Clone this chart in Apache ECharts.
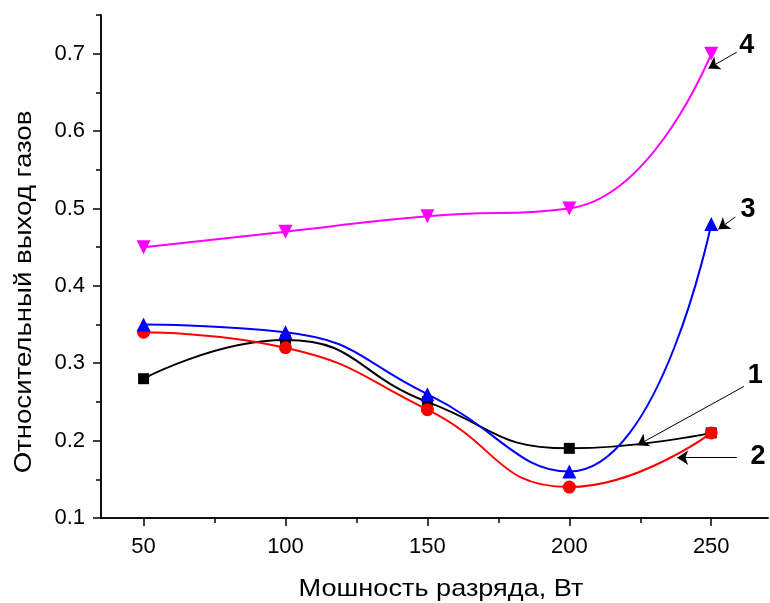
<!DOCTYPE html>
<html><head><meta charset="utf-8">
<script src="https://cdn.jsdelivr.net/npm/echarts@6/dist/echarts.min.js"></script>
<style>html,body{margin:0;padding:0;background:#fff}#c{width:770px;height:603px}</style>
</head><body><div id="c"></div>
<script>
const power = [50, 100, 150, 200, 250];
const s1 = [0.28, 0.33, 0.25, 0.19, 0.21];
const s2 = [0.34, 0.32, 0.24, 0.14, 0.21];
const s3 = [0.35, 0.34, 0.26, 0.16, 0.48];
const s4 = [0.45, 0.47, 0.49, 0.50, 0.70];
const xMajor = [50, 100, 150, 200, 250];
const xMinor = [75, 125, 175, 225];
const yMajor = [0.1, 0.2, 0.3, 0.4, 0.5, 0.6, 0.7];
const yMinor = [0.15, 0.25, 0.35, 0.45, 0.55, 0.65, 0.75];
const xTitle = 'Мошность разряда, Вт';
const yTitle = 'Относительный выход газов';
// annotation: label position and arrow (from -> to) in data coords
const notes = [
  {text: '1', label: [265.5, 0.284], from: [261.5, 0.27], to: [224, 0.194]},
  {text: '2', label: [266.5, 0.179], from: [259, 0.178], to: [238, 0.178]},
  {text: '3', label: [263, 0.498], from: [258.5, 0.489], to: [252.5, 0.473]},
  {text: '4', label: [262.5, 0.711], from: [259, 0.702], to: [249, 0.681]}
];
const colors = ['#000000', '#ff0000', '#0000ff', '#ff00ff'];
const symbols = ['rect', 'circle', 'triangle', 'triangle'];
const sizes = [11, 13, 14, 14];
const rot = [0, 0, 0, 180];
const all = [s1, s2, s3, s4];

const font = 'Liberation Sans, Arial, sans-serif';
const lineStyle = {color: '#000', width: 1.5};
function xAxis(ticks, len, labels) {
  return {
    type: 'value', min: 35, max: 270, position: 'bottom',
    axisLine: {show: true, lineStyle},
    axisTick: {show: true, inside: false, length: len, customValues: ticks, lineStyle},
    axisLabel: {show: labels, customValues: ticks, fontSize: 22, color: '#000', fontFamily: font, margin: 18},
    splitLine: {show: false}
  };
}
function yAxis(ticks, len, labels) {
  return {
    type: 'value', min: 0.1, max: 0.75, position: 'left',
    axisLine: {show: true, lineStyle},
    axisTick: {show: true, inside: false, length: len, customValues: ticks, lineStyle},
    axisLabel: {show: labels, customValues: ticks, fontSize: 22, color: '#000', fontFamily: font, margin: 16,
      formatter: v => v.toFixed(1)},
    splitLine: {show: false}
  };
}
const series = all.map((vals, i) => ({
  type: 'line', xAxisIndex: 0, yAxisIndex: 0,
  data: power.map((p, j) => [p, vals[j]]),
  smooth: 0.5,
  symbol: symbols[i], symbolSize: sizes[i], symbolRotate: rot[i],
  itemStyle: {color: colors[i]},
  lineStyle: {color: colors[i], width: 2},
  z: 2 + i,
  markLine: {
    silent: true, symbol: ['none', 'arrow'], symbolSize: 11,
    itemStyle: {color: '#000'},
    lineStyle: {color: '#000', width: 1, type: 'solid'},
    label: {show: false},
    emphasis: {disabled: true},
    data: [[{coord: notes[i].from}, {coord: notes[i].to}]]
  },
  markPoint: {
    silent: true, symbol: 'circle', symbolSize: 1, itemStyle: {color: 'rgba(0,0,0,0)'},
    label: {show: true, position: 'inside', formatter: notes[i].text, fontSize: 27, fontWeight: 'bold', color: '#000', fontFamily: font},
    data: [{coord: notes[i].label}]
  }
}));
const chart = echarts.init(document.getElementById('c'), null, {renderer: 'canvas'});
chart.setOption({
  animation: false,
  backgroundColor: '#fff',
  grid: {left: 101, right: 2, top: 15, bottom: 85, containLabel: false},
  xAxis: [xAxis(xMajor, 8, true), xAxis(xMinor, 5, false)],
  yAxis: [yAxis(yMajor, 8, true), yAxis(yMinor, 5, false)],
  series: series,
  graphic: [
    {type: 'text', x: 441, y: 589, scaleX: 1.13, style: {text: xTitle, font: '24px ' + font, fill: '#000', textAlign: 'center', textVerticalAlign: 'middle'}},
    {type: 'text', x: 24, y: 292, rotation: Math.PI / 2, scaleX: 1.15, style: {text: yTitle, font: '24px ' + font, fill: '#000', textAlign: 'center', textVerticalAlign: 'middle'}}
  ]
});
</script></body></html>
